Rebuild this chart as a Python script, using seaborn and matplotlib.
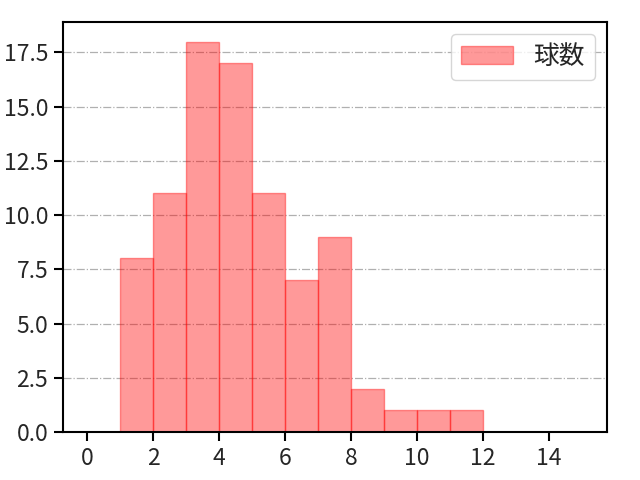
import matplotlib
matplotlib.use("Agg")
import matplotlib.pyplot as plt
import seaborn as sns
import numpy as np

# Data: values (number of pitches) and their frequencies
values = [1.5, 2.5, 3.5, 4.5, 5.5, 6.5, 7.5, 8.5, 9.5, 10.5, 11.5]
counts = [8, 11, 18, 17, 11, 7, 9, 2, 1, 1, 1]
bin_edges = list(range(0, 16))
xticks = [0, 2, 4, 6, 8, 10, 12, 14]
label = "球数"

sns.set_style("ticks")
plt.rcParams['font.family'] = ['Noto Sans CJK JP', 'DejaVu Sans']

fig, ax = plt.subplots(figsize=(6.4, 4.8), dpi=100)
sns.histplot(x=values, weights=counts, bins=bin_edges, ax=ax,
             facecolor=(1, 0, 0, 0.4), edgecolor=(1, 0, 0, 0.4), linewidth=1,
             alpha=None, label=label)
ax.set_xlim(-0.75, 15.75)
ax.set_ylim(0, 18.9)
ax.set_xticks(xticks)
ax.set_yticks(np.arange(0, 18, 2.5))
ax.set_ylabel("")
ax.set_xlabel("")
ax.yaxis.grid(True, linestyle="-.", color="#b0b0b0", linewidth=0.9)
ax.set_axisbelow(True)
for s in ax.spines.values():
    s.set_color("black")
    s.set_linewidth(1.5)
ax.tick_params(labelsize=16.5, direction="out", length=6.5, width=1.5, color="black", pad=4)
ax.legend(loc="upper right", fontsize=18.5, borderaxespad=0.45)
fig.subplots_adjust(left=0.098, right=0.948, top=0.954, bottom=0.1)
fig.savefig("out.png", dpi=100)
